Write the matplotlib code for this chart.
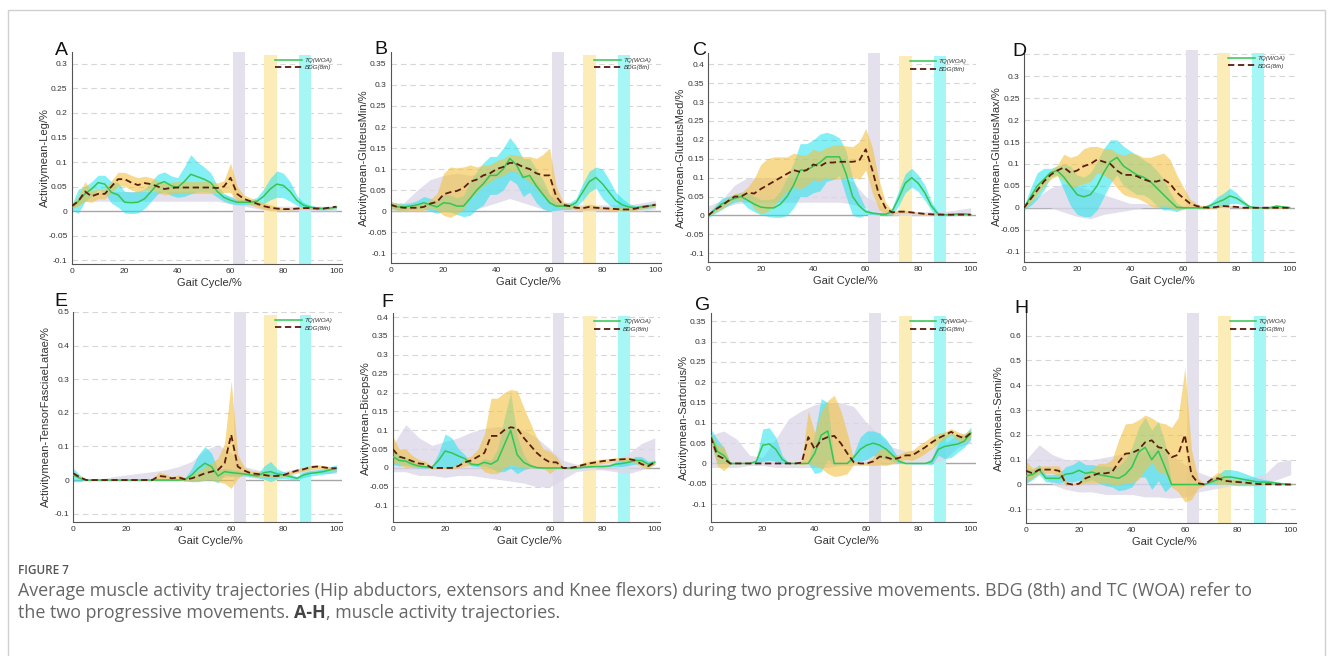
import numpy as np
import matplotlib
matplotlib.use("Agg")
import matplotlib.pyplot as plt
from matplotlib.ticker import FuncFormatter
from matplotlib.patches import Rectangle

plt.rcParams['font.family'] = ['Liberation Sans', 'DejaVu Sans']

# ---------------- data ----------------
GAIT = np.arange(0, 100.01, 2.5)       # 41 samples of the gait cycle (%)
GAIT_REF = np.arange(0, 100.01, 5)     # 21 samples for the grey reference band

# Panel A - Leg
A_TQ = [0.008,0.02,0.035,0.045,0.058,0.055,0.038,0.033,0.018,0.017,0.018,0.025,0.04,0.055,0.06,0.052,0.048,0.06,0.075,0.07,0.065,0.058,0.04,0.028,0.022,0.018,0.018,0.018,0.02,0.03,0.045,0.055,0.052,0.04,0.022,0.012,0.008,0.006,0.005,0.006,0.008]
A_TQ_SD = [0.005,0.025,0.015,0.015,0.015,0.018,0.022,0.025,0.022,0.022,0.022,0.02,0.02,0.02,0.02,0.02,0.02,0.03,0.04,0.03,0.025,0.02,0.012,0.008,0.007,0.005,0.005,0.005,0.008,0.015,0.022,0.027,0.025,0.02,0.01,0.006,0.004,0.003,0.003,0.003,0.003]
A_BDG = [0.01,0.02,0.04,0.03,0.035,0.035,0.05,0.065,0.065,0.058,0.053,0.057,0.055,0.05,0.045,0.047,0.048,0.048,0.048,0.048,0.048,0.048,0.047,0.05,0.068,0.035,0.025,0.02,0.015,0.01,0.007,0.005,0.004,0.004,0.005,0.006,0.006,0.005,0.005,0.007,0.009]
A_BDG_SD = [0.003,0.01,0.02,0.012,0.01,0.01,0.012,0.014,0.014,0.015,0.015,0.014,0.013,0.012,0.012,0.012,0.012,0.012,0.012,0.012,0.012,0.012,0.01,0.012,0.03,0.015,0.008,0.007,0.007,0.006,0.006,0.004,0.002,0.002,0.002,0.002,0.002,0.002,0.002,0.002,0.002]
A_REF_LO = [0.005,0.02,0.02,0.02,0.02,0.02,0.02,0.02,0.02,0.02,0.02,0.02,0.015,0.01,0.005,0,0,0,0,0,0]
A_REF_HI = [0.015,0.035,0.04,0.04,0.04,0.04,0.04,0.04,0.04,0.04,0.04,0.035,0.03,0.025,0.02,0.01,0.01,0.01,0.01,0.01,0.01]

# Panel B - GluteusMin
B_TQ = [0.015,0.01,0.01,0.012,0.015,0.02,0.015,0.01,0.02,0.018,0.012,0.012,0.03,0.05,0.065,0.085,0.085,0.1,0.125,0.11,0.08,0.085,0.06,0.04,0.02,0.012,0.012,0.012,0.02,0.045,0.07,0.08,0.065,0.045,0.025,0.015,0.01,0.008,0.01,0.012,0.015]
B_TQ_SD = [0.008,0.008,0.008,0.008,0.01,0.015,0.015,0.015,0.02,0.02,0.02,0.025,0.04,0.045,0.05,0.045,0.045,0.05,0.05,0.045,0.045,0.04,0.04,0.035,0.02,0.01,0.008,0.008,0.01,0.02,0.025,0.025,0.035,0.03,0.02,0.015,0.008,0.005,0.005,0.005,0.005]
B_BDG = [0.015,0.01,0.008,0.008,0.008,0.01,0.018,0.022,0.04,0.045,0.048,0.055,0.07,0.075,0.085,0.09,0.1,0.105,0.115,0.113,0.105,0.1,0.09,0.085,0.085,0.035,0.015,0.012,0.008,0.007,0.01,0.008,0.007,0.006,0.005,0.004,0.004,0.006,0.01,0.012,0.015]
B_BDG_SD = [0.008,0.008,0.008,0.008,0.008,0.008,0.01,0.02,0.05,0.06,0.055,0.05,0.04,0.03,0.025,0.02,0.02,0.02,0.02,0.02,0.025,0.03,0.035,0.05,0.065,0.025,0.008,0.005,0.005,0.005,0.007,0.005,0.004,0.004,0.004,0.004,0.004,0.004,0.004,0.004,0.004]
B_REF_LO = [0,0,0,0,0,0,0,0.01,0.02,0.03,0.02,0.01,0,0,0,0,0,0,0,0,0.005]
B_REF_HI = [0.02,0.02,0.05,0.075,0.085,0.09,0.085,0.09,0.1,0.1,0.09,0.07,0.04,0.02,0.015,0.015,0.015,0.015,0.015,0.02,0.025]

# Panel C - GluteusMed
C_TQ = [0.0,0.015,0.03,0.038,0.045,0.05,0.04,0.03,0.022,0.02,0.02,0.03,0.05,0.08,0.12,0.12,0.13,0.14,0.155,0.155,0.155,0.11,0.05,0.025,0.01,0.006,0.004,0.003,0.01,0.045,0.085,0.1,0.085,0.06,0.025,0.004,0.002,0.002,0.004,0.004,0.002]
C_TQ_SD = [0.005,0.01,0.015,0.012,0.01,0.012,0.02,0.02,0.02,0.022,0.025,0.035,0.05,0.06,0.07,0.07,0.07,0.075,0.065,0.06,0.05,0.06,0.05,0.03,0.008,0.004,0.003,0.004,0.01,0.02,0.025,0.025,0.022,0.02,0.012,0.005,0.003,0.003,0.004,0.003,0.003]
C_BDG = [0.0,0.015,0.025,0.038,0.05,0.05,0.06,0.058,0.07,0.08,0.09,0.1,0.11,0.12,0.115,0.12,0.135,0.13,0.14,0.14,0.142,0.142,0.142,0.145,0.175,0.12,0.055,0.02,0.008,0.01,0.01,0.008,0.006,0.004,0.003,0.002,0.002,0.002,0.002,0.002,0.002]
C_BDG_SD = [0.003,0.006,0.008,0.008,0.008,0.01,0.015,0.04,0.065,0.07,0.065,0.055,0.045,0.045,0.045,0.04,0.04,0.04,0.04,0.045,0.045,0.042,0.04,0.05,0.055,0.06,0.04,0.015,0.005,0.004,0.004,0.003,0.002,0.002,0.002,0.002,0.002,0.002,0.002,0.002,0.002]
C_REF_LO = [0,0.02,0.03,0.035,0.035,0.035,0.035,0.035,0.035,0.035,0.035,0.03,0.02,0.005,0,0,0,0,0,0,0]
C_REF_HI = [0.025,0.04,0.08,0.1,0.1,0.1,0.1,0.1,0.1,0.1,0.1,0.09,0.05,0.03,0.01,0.01,0.01,0.01,0.01,0.015,0.02]

# Panel D - GluteusMax
D_TQ = [0.0,0.025,0.05,0.065,0.08,0.085,0.07,0.05,0.03,0.025,0.03,0.05,0.08,0.105,0.115,0.095,0.085,0.075,0.07,0.06,0.045,0.03,0.015,0.001,0,0,0,0,0.005,0.012,0.018,0.027,0.022,0.012,0.002,0,0,0,0.004,0.002,0]
D_TQ_SD = [0.003,0.02,0.03,0.025,0.01,0.01,0.03,0.045,0.045,0.045,0.05,0.055,0.055,0.05,0.04,0.045,0.045,0.045,0.04,0.04,0.04,0.035,0.02,0.01,0.002,0.002,0.002,0.002,0.005,0.012,0.015,0.018,0.012,0.006,0.003,0.002,0.002,0.002,0.002,0.002,0.002]
D_BDG = [0.0,0.02,0.04,0.06,0.075,0.085,0.092,0.08,0.085,0.095,0.1,0.11,0.105,0.1,0.085,0.075,0.075,0.072,0.065,0.06,0.06,0.065,0.055,0.035,0.022,0.01,0.004,0.001,0,0.002,0.004,0.003,0.002,0,0,0,0,0,0,0,0]
D_BDG_SD = [0.002,0.008,0.01,0.01,0.01,0.012,0.03,0.035,0.035,0.04,0.04,0.03,0.03,0.035,0.04,0.045,0.05,0.05,0.05,0.055,0.06,0.06,0.055,0.04,0.025,0.01,0.005,0.003,0.002,0.002,0.003,0.002,0.001,0.001,0.001,0.001,0.001,0.001,0.001,0.001,0.001]
D_REF_LO = [0,0,0,-0.01,-0.02,-0.025,-0.015,-0.01,-0.005,0,0,0,0,0,0,0,0,0,0,0,0]
D_REF_HI = [0.005,0.025,0.045,0.055,0.05,0.04,0.03,0.02,0.01,0.01,0.005,0.005,0.005,0.005,0.005,0.005,0.005,0.005,0.005,0.005,0.005]

# Panel E - TensorFasciaeLatae
E_TQ = [0.015,0.005,0,0,0,0,0,0,0,0,0,0,0,0,0,0,0,0.002,0.015,0.035,0.05,0.04,0.012,0.025,0.022,0.02,0.018,0.015,0.012,0.022,0.025,0.018,0.015,0.01,0.005,0.015,0.02,0.022,0.025,0.03,0.035]
E_TQ_SD = [0.02,0.01,0,0,0,0,0,0,0,0,0,0,0,0,0,0,0,0.005,0.02,0.04,0.05,0.04,0.02,0.01,0.01,0.008,0.005,0.005,0.005,0.02,0.03,0.015,0.01,0.008,0.005,0.008,0.008,0.008,0.008,0.01,0.01]
E_BDG = [0.02,0.008,0,0,0,0,0,0,0,0,0,0,0,0.012,0.01,0.005,0.008,0.002,0.005,0.012,0.02,0.025,0.03,0.05,0.135,0.04,0.028,0.02,0.018,0.015,0.012,0.012,0.015,0.022,0.028,0.032,0.038,0.04,0.038,0.035,0.035]
E_BDG_SD = [0.005,0.005,0,0,0,0,0,0,0,0,0,0,0,0.012,0.008,0.005,0.008,0.005,0.01,0.015,0.02,0.025,0.035,0.06,0.16,0.035,0.01,0.008,0.008,0.006,0.005,0.005,0.005,0.005,0.005,0.006,0.006,0.006,0.005,0.005,0.005]
E_REF_LO = [0,0,0,0,0,0,0,0,0,0,0,0.005,0.01,0.01,0.005,0.005,0.01,0.02,0.02,0.02,0.02]
E_REF_HI = [0,0,0.002,0.01,0.015,0.02,0.025,0.03,0.04,0.055,0.09,0.105,0.08,0.04,0.03,0.025,0.025,0.035,0.035,0.035,0.035]

# Panel F - Biceps
F_TQ = [0.03,0.02,0.018,0.01,0.005,0.003,0.002,0.02,0.045,0.04,0.032,0.025,0.01,0.008,0.015,0.01,0.02,0.06,0.1,0.035,0.015,0.006,0.001,0,0,0,0,0,0,0.002,0.003,0.004,0.004,0.005,0.01,0.012,0.015,0.02,0.02,0.01,0.015]
F_TQ_SD = [0.02,0.015,0.01,0.008,0.005,0.003,0.003,0.02,0.045,0.04,0.02,0.01,0.005,0.005,0.01,0.01,0.03,0.07,0.1,0.05,0.02,0.005,0.002,0.002,0.002,0.002,0.002,0.002,0.002,0.002,0.002,0.002,0.002,0.002,0.006,0.008,0.008,0.01,0.01,0.008,0.006]
F_BDG = [0.05,0.03,0.025,0.018,0.012,0.01,0.0,0,0,0,0.005,0.015,0.02,0.03,0.04,0.085,0.085,0.1,0.108,0.105,0.08,0.06,0.04,0.025,0.015,0.015,0.0,0,0.003,0.008,0.012,0.015,0.018,0.02,0.022,0.023,0.024,0.02,0.01,0.005,0.015]
F_BDG_SD = [0.035,0.02,0.025,0.015,0.01,0.008,0.003,0.002,0.002,0.003,0.005,0.01,0.012,0.02,0.05,0.1,0.1,0.1,0.1,0.1,0.08,0.06,0.04,0.025,0.03,0.015,0.002,0.002,0.003,0.006,0.006,0.006,0.006,0.005,0.005,0.005,0.005,0.006,0.008,0.006,0.005]
F_REF_LO = [-0.01,-0.01,-0.02,-0.02,-0.025,-0.02,-0.02,-0.025,-0.03,-0.035,-0.04,-0.05,-0.05,-0.03,-0.01,-0.005,-0.005,-0.01,-0.015,-0.005,0.01]
F_REF_HI = [0.06,0.115,0.08,0.06,0.07,0.08,0.095,0.105,0.11,0.105,0.1,0.08,0.05,0.02,0.01,0.01,0.015,0.02,0.04,0.065,0.08]

# Panel G - Sartorius
G_TQ = [0.07,0.03,0.02,0.0,0,0,0,0.005,0.045,0.048,0.035,0.01,0,0,0,0,0.025,0.07,0.08,0.0,0,0,0.015,0.035,0.045,0.05,0.045,0.035,0.02,0.005,0,0,0,0,0.005,0.035,0.042,0.045,0.048,0.055,0.075]
G_TQ_SD = [0.015,0.03,0.02,0.002,0,0,0,0.005,0.04,0.04,0.03,0.01,0,0,0,0,0.05,0.09,0.07,0.003,0,0,0.01,0.03,0.035,0.03,0.03,0.025,0.015,0.005,0.001,0.001,0.001,0.001,0.008,0.015,0.03,0.03,0.02,0.015,0.015]
G_BDG = [0.065,0.02,0.012,0,0,0,0,0,0,0,0,0,0,0,0.002,0.065,0.035,0.058,0.065,0.068,0.05,0.025,0.003,0,0,0.005,0.017,0.015,0.01,0.014,0.02,0.02,0.03,0.04,0.052,0.062,0.07,0.078,0.068,0.062,0.075]
G_BDG_SD = [0.01,0.025,0.03,0.002,0,0,0,0,0,0,0,0,0,0,0.005,0.065,0.04,0.07,0.09,0.1,0.08,0.05,0.005,0.002,0.003,0.01,0.02,0.02,0.01,0.008,0.01,0.012,0.015,0.015,0.015,0.012,0.008,0.008,0.01,0.01,0.01]
G_REF_LO = [-0.01,-0.01,-0.01,-0.005,-0.005,-0.01,-0.01,-0.01,-0.01,-0.01,-0.005,-0.005,-0.005,-0.005,0.0,0,0,0,0.01,0.04,0.05]
G_REF_HI = [0.07,0.08,0.06,0.02,0.015,0.06,0.11,0.13,0.145,0.15,0.15,0.14,0.1,0.07,0.04,0.03,0.035,0.04,0.05,0.07,0.08]

# Panel H - Semi
H_TQ = [0.035,0.04,0.06,0.025,0.025,0.025,0.042,0.045,0.057,0.045,0.05,0.04,0.035,0.03,0.025,0.04,0.07,0.13,0.15,0.1,0.135,0.07,0.0,0,0,0,0,0,0.01,0.02,0.03,0.03,0.025,0.02,0.015,0.01,0.01,0.008,0.005,0.002,0.0]
H_TQ_SD = [0.03,0.02,0.02,0.015,0.015,0.02,0.03,0.035,0.04,0.035,0.03,0.035,0.04,0.04,0.05,0.06,0.08,0.1,0.12,0.12,0.12,0.1,0.005,0.002,0.002,0.002,0.002,0.002,0.01,0.02,0.03,0.03,0.03,0.025,0.02,0.015,0.01,0.008,0.005,0.003,0.002]
H_BDG = [0.055,0.045,0.06,0.06,0.06,0.055,0.005,0,0.003,0.025,0.035,0.045,0.045,0.05,0.09,0.124,0.127,0.14,0.17,0.178,0.15,0.145,0.11,0.12,0.2,0.04,0.005,0,0.02,0.025,0.015,0.012,0.01,0.008,0.005,0.002,0.001,0.001,0,0,0]
H_BDG_SD = [0.04,0.02,0.015,0.015,0.015,0.02,0.01,0.003,0.005,0.02,0.03,0.04,0.04,0.05,0.09,0.12,0.12,0.12,0.11,0.09,0.1,0.1,0.12,0.15,0.27,0.1,0.02,0.003,0.01,0.025,0.015,0.01,0.01,0.006,0.005,0.003,0.002,0.002,0.001,0.001,0.001]
H_REF_LO = [0.0,0.05,0.0,-0.02,-0.03,-0.03,-0.04,-0.04,-0.04,-0.05,-0.05,-0.055,-0.05,-0.03,-0.02,-0.01,0,0,0,0.02,0.04]
H_REF_HI = [0.1,0.16,0.12,0.1,0.1,0.1,0.11,0.12,0.13,0.13,0.15,0.12,0.08,0.05,0.03,0.02,0.02,0.03,0.04,0.09,0.1]

LETTERS = ['A', 'B', 'C', 'D', 'E', 'F', 'G', 'H']
YLABELS = ['Activitymean-Leg/%', 'Activitymean-GluteusMin/%', 'Activitymean-GluteusMed/%',
           'Activitymean-GluteusMax/%', 'Activitymean-TensorFasciaeLatae/%',
           'Activitymean-Biceps/%', 'Activitymean-Sartorius/%', 'Activitymean-Semi/%']
XLABEL = 'Gait Cycle/%'
LEGEND = ['TQ(WOA)', 'BDG(8th)']
XTICKS = [0, 20, 40, 60, 80, 100]
YTICKS = [
    [-0.1, -0.05, 0, 0.05, 0.1, 0.15, 0.2, 0.25, 0.3],
    [-0.1, -0.05, 0, 0.05, 0.1, 0.15, 0.2, 0.25, 0.3, 0.35],
    [-0.1, -0.05, 0, 0.05, 0.1, 0.15, 0.2, 0.25, 0.3, 0.35, 0.4],
    [-0.1, -0.05, 0, 0.05, 0.1, 0.15, 0.2, 0.25, 0.3],
    [-0.1, 0, 0.1, 0.2, 0.3, 0.4, 0.5],
    [-0.1, -0.05, 0, 0.05, 0.1, 0.15, 0.2, 0.25, 0.3, 0.35, 0.4],
    [-0.1, -0.05, 0, 0.05, 0.1, 0.15, 0.2, 0.25, 0.3, 0.35],
    [-0.1, 0, 0.1, 0.2, 0.3, 0.4, 0.5, 0.6],
]
EXTRA_GRID = [[], [], [], [0.35], [], [], [], []]
YLIMS = [(-0.108, 0.325), (-0.124, 0.379), (-0.124, 0.429), (-0.123, 0.36),
         (-0.124, 0.5), (-0.144, 0.41), (-0.145, 0.37), (-0.154, 0.69)]
PHASES = [(61, 65.5), (72.5, 77.5), (86, 90.5)]

SERIES = [
    (A_TQ, A_TQ_SD, A_BDG, A_BDG_SD, A_REF_LO, A_REF_HI),
    (B_TQ, B_TQ_SD, B_BDG, B_BDG_SD, B_REF_LO, B_REF_HI),
    (C_TQ, C_TQ_SD, C_BDG, C_BDG_SD, C_REF_LO, C_REF_HI),
    (D_TQ, D_TQ_SD, D_BDG, D_BDG_SD, D_REF_LO, D_REF_HI),
    (E_TQ, E_TQ_SD, E_BDG, E_BDG_SD, E_REF_LO, E_REF_HI),
    (F_TQ, F_TQ_SD, F_BDG, F_BDG_SD, F_REF_LO, F_REF_HI),
    (G_TQ, G_TQ_SD, G_BDG, G_BDG_SD, G_REF_LO, G_REF_HI),
    (H_TQ, H_TQ_SD, H_BDG, H_BDG_SD, H_REF_LO, H_REF_HI),
]

# ---------------- layout (pixels) ----------------
W, H = 1332, 656
BOXES = [  # left, top, right, bottom
    (71.7, 51.7, 341.7, 264.0), (390.7, 51.7, 660.7, 263.3),
    (708.3, 53.3, 976.0, 262.3), (1024.0, 50.0, 1295.0, 261.7),
    (73.3, 312.0, 341.7, 521.7), (392.7, 313.3, 660.0, 522.3),
    (710.7, 313.3, 976.0, 522.3), (1026.0, 313.3, 1296.0, 522.7),
]
LETTER_POS = [(55, 46), (374, 45), (693, 46), (1012, 47),
              (54, 297), (381, 298), (695, 301), (1014, 304)]

PHASE_COLORS = ['#e4e0ec', '#fcecb8', '#a6f6f6']
REF_COLOR = '#ddd7e9'
TQ_FILL = '#1fe3ec'
BDG_FILL = '#f2c242'
TQ_LINE = '#33c653'
BDG_LINE = '#5b1d10'

fig = plt.figure(figsize=(W / 100, H / 100), dpi=100)


def fmt(v, _pos):
    return '%g' % round(v, 4)


for i in range(8):
    l, t, r, b = BOXES[i]
    ax = fig.add_axes([l / W, 1 - b / H, (r - l) / W, (b - t) / H])
    tq, tq_sd, bdg, bdg_sd, ref_lo, ref_hi = [np.asarray(s, float) for s in SERIES[i]]

    ax.set_xlim(0, 102)
    ax.set_ylim(*YLIMS[i])

    for yv in list(YTICKS[i]) + EXTRA_GRID[i]:
        if abs(yv) < 1e-9:
            continue
        ax.axhline(yv, color='#d6d6d6', lw=0.8, dashes=(5, 3.5), zorder=0)
    ax.axhline(0, color='#a6a6a6', lw=1.0, zorder=0.5)

    for k, (x0, x1) in enumerate(PHASES):
        ax.axvspan(x0, x1, ymin=0, ymax=1.0 if k == 0 else 0.985,
                   color=PHASE_COLORS[k], lw=0, zorder=1)

    ax.fill_between(GAIT_REF, ref_lo, ref_hi, color=REF_COLOR, alpha=0.8, lw=0, zorder=1.5)
    ax.fill_between(GAIT, tq - tq_sd, tq + tq_sd, color=TQ_FILL, alpha=0.55, lw=0, zorder=2)
    ax.fill_between(GAIT, bdg - bdg_sd, bdg + bdg_sd, color=BDG_FILL, alpha=0.6, lw=0, zorder=2.1)
    ax.plot(GAIT, tq, color=TQ_LINE, lw=1.1, zorder=3, label=LEGEND[0])
    ax.plot(GAIT, bdg, color=BDG_LINE, lw=1.3, ls=(0, (3.5, 2)), zorder=3.1, label=LEGEND[1])

    ax.set_xticks(XTICKS)
    ax.set_yticks(YTICKS[i])
    ax.yaxis.set_major_formatter(FuncFormatter(fmt))
    ax.tick_params(axis='both', length=0, labelsize=6, labelcolor='#333333', pad=3)
    for s in ['top', 'right']:
        ax.spines[s].set_visible(False)
    for s in ['left', 'bottom']:
        ax.spines[s].set_color('#555555')
        ax.spines[s].set_linewidth(0.8)
    ax.set_facecolor('white')

    leg = ax.legend(loc='upper right', bbox_to_anchor=(0.975, 0.985), frameon=False,
                    prop={'size': 4.5, 'style': 'italic'}, handlelength=4.3,
                    handletextpad=0.4, labelspacing=0.35, borderaxespad=0)
    for txt in leg.get_texts():
        txt.set_color('#333333')

    # axis titles
    fig.text(((l + r) / 2 + 3) / W, 1 - (b + 19) / H, XLABEL, ha='center', va='center',
             fontsize=8, color='#333333')
    fig.text((l - 27) / W, 1 - ((t + b) / 2) / H, YLABELS[i], ha='center', va='center',
             rotation=90, fontsize=8, color='#333333')
    lx, ly = LETTER_POS[i]
    fig.text(lx / W, 1 - (ly - 4) / H, LETTERS[i], ha='left', va='top', fontsize=14,
             color='#111111')

# outer frame
fig.patches.append(Rectangle((8 / W, -0.05), (1325 - 8) / W, 1.05 - 10 / H,
                             transform=fig.transFigure, fill=False,
                             edgecolor='#cfcfcf', lw=1.0))

# caption
CAP_FONT = ['Open Sans', 'DejaVu Sans']
CAP_TITLE = 'FIGURE 7'
CAP_LINE1 = ('Average muscle activity trajectories (Hip abductors, extensors and Knee flexors) '
             'during two progressive movements. BDG (8th) and TC (WOA) refer to')
CAP_LINE2A = 'the two progressive movements. '
CAP_LINE2B = 'A-H'
CAP_LINE2C = ', muscle activity trajectories.'

fig.text(18 / W, 1 - 570 / H, CAP_TITLE, ha='left', va='center', fontsize=8.5,
         color='#555555', family=CAP_FONT, fontweight='semibold')
t1 = fig.text(18 / W, 1 - 591 / H, CAP_LINE1, ha='left', va='center', fontsize=11,
              color='#666666', family=CAP_FONT)
fig.canvas.draw()
renderer = fig.canvas.get_renderer()
w1 = t1.get_window_extent(renderer).width
fs = 11 * (1237.0 / w1)
t1.set_fontsize(fs)

x = 18.0
for txt, wt, col in [(CAP_LINE2A, 'normal', '#666666'), (CAP_LINE2B, 'bold', '#444444'),
                     (CAP_LINE2C, 'normal', '#666666')]:
    tt = fig.text(x / W, 1 - 613 / H, txt, ha='left', va='center', fontsize=fs,
                  color=col, family=CAP_FONT, fontweight=wt)
    fig.canvas.draw()
    ext = tt.get_window_extent(renderer)
    x = ext.x1

fig.savefig('out.png', dpi=100, facecolor='white')
